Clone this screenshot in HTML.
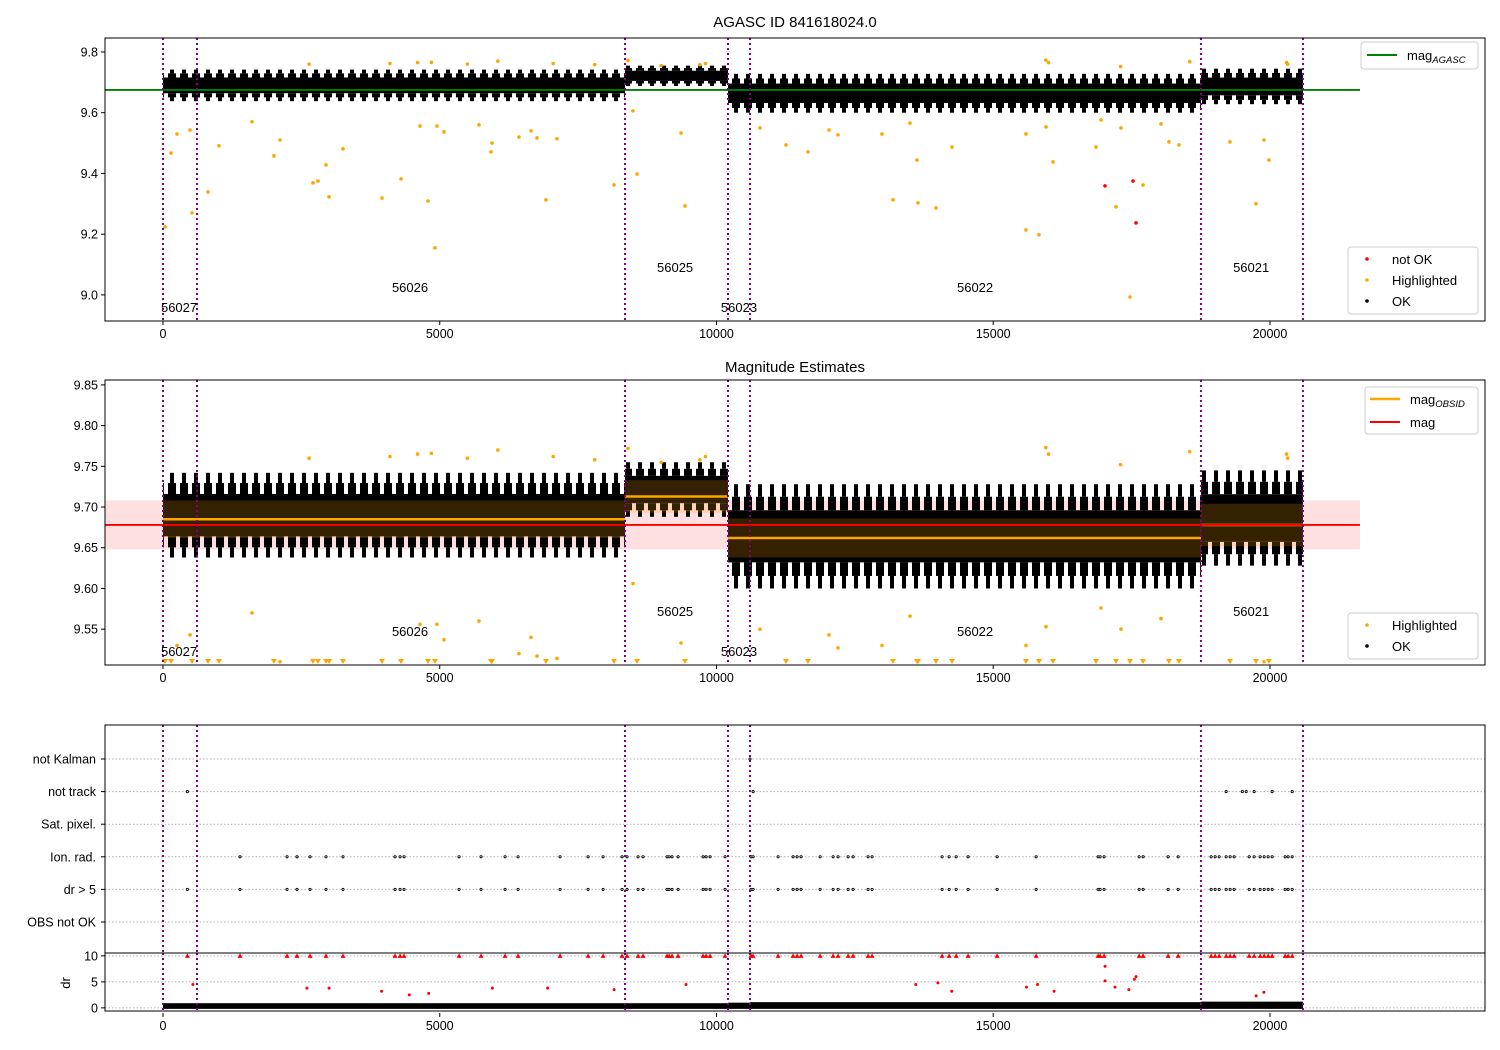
<!DOCTYPE html>
<html><head><meta charset="utf-8"><style>
html,body{margin:0;padding:0;background:#fff}
svg{display:block;font-family:"Liberation Sans","DejaVu Sans",sans-serif}
</style></head><body>
<svg id="fig" width="1500" height="1050" viewBox="0 0 1500 1050" xmlns="http://www.w3.org/2000/svg">
<defs>
<pattern id="stripes" patternUnits="userSpaceOnUse" width="12" height="40"><rect x="0" y="0" width="8" height="40" fill="#000"/></pattern>
<pattern id="stripes2" patternUnits="userSpaceOnUse" width="12" height="40"><rect x="2" y="0" width="4" height="40" fill="#000"/></pattern>
</defs>
<rect x="0" y="0" width="1500" height="1050" fill="#fff"/>
<text x="795" y="27" font-size="15" text-anchor="middle">AGASC ID 841618024.0</text>
<text x="795" y="372" font-size="15" text-anchor="middle">Magnitude Estimates</text>
<g id="p1"></g>
<g id="p2"></g>
<g id="p3"></g>
<g id="p4"></g>
</svg>
<script>
// ---- data ----
const obsBounds = [0, 614, 8347, 10208, 10605, 18753, 20596];
const obsLabels = ["56027","56026","56025","56023","56022","56021"];
const obsLabelX = [290, 4463, 9252, 10407, 14672, 19660];
const obsLabelFrac = [0.05, 0.12, 0.19, 0.05, 0.12, 0.19];
const segStart = [0, 8347, 10208, 18753];
const segEnd = [8347, 10208, 18753, 20596];
const segLo = [9.638, 9.688, 9.600, 9.628];
const segHi = [9.742, 9.755, 9.728, 9.745];
const segMean = [9.685, 9.713, 9.662, 9.678];
const segStdLo = [9.662, 9.693, 9.638, 9.652];
const segStdHi = [9.708, 9.733, 9.686, 9.704];
const magAgasc = 9.675;
const magAll = 9.678;
const magBandLo = 9.648, magBandHi = 9.708;
const lineXEnd = 21626;
const hiX = [36,145,253,488,524,813,1012,1608,2005,2114,2710,2800,2945,3000,3252,3957,4300,4643,4788,4914,4950,5077,5709,5926,5944,6432,6649,6757,6920,7118,8148,8491,8564,9359,9431,10786,11256,11653,12033,12195,12990,13189,13496,13623,13641,13966,14255,15592,15592,15827,15953,16080,16857,16947,17218,17308,17471,17706,18031,18175,18356,19277,19747,19892,19982,2640,4100,4600,4850,5500,6050,7050,7800,8400,9000,9700,9800,15950,16000,17300,18550,20300,20320];
const hiY = [9.224,9.467,9.530,9.543,9.270,9.339,9.491,9.570,9.458,9.510,9.369,9.375,9.428,9.323,9.481,9.319,9.382,9.556,9.309,9.155,9.556,9.537,9.560,9.471,9.500,9.520,9.540,9.517,9.313,9.514,9.362,9.606,9.398,9.533,9.293,9.550,9.494,9.471,9.543,9.527,9.530,9.313,9.566,9.444,9.303,9.286,9.487,9.530,9.214,9.198,9.553,9.438,9.487,9.576,9.290,9.550,8.993,9.362,9.563,9.504,9.494,9.504,9.300,9.510,9.444,9.760,9.762,9.765,9.766,9.760,9.770,9.762,9.758,9.772,9.755,9.758,9.762,9.773,9.765,9.752,9.768,9.765,9.760];
const notOkX = [17019, 17525, 17580];
const notOkY = [9.359, 9.375, 9.237];
const flagX = [1391,2241,2421,2656,2945,3252,4192,4283,4355,5349,5746,6180,6415,7174,7680,7951,8294,8384,8583,8673,9107,9143,9197,9306,9758,9812,9884,10155,10625,10661,11113,11384,11456,11528,11872,12107,12197,12378,12468,12739,12811,14076,14203,14330,14546,15070,15775,16895,16931,17003,17636,17708,18160,18341,18937,19009,19082,19208,19280,19353,19624,19714,19822,19895,19967,20039,20274,20328,20401];
const drFlagX = [440].concat(flagX);
const notTrackX = [440, 10661, 19208, 19500, 19570, 19714, 20039, 20401];
const notKalmanX = [10605];
const flagNames = ["not Kalman","not track","Sat. pixel.","Ion. rad.","dr > 5","OBS not OK"];
const drX = [540,2600,3000,3950,4450,4800,5950,6950,8150,9450,13600,14000,14250,15600,15800,16100,17020,17020,17200,17450,17550,17580,19750,19890];
const drY = [4.5,3.8,3.8,3.2,2.5,2.8,3.8,3.8,3.5,4.5,4.5,4.8,3.2,4.0,4.5,3.2,8.0,5.2,4.0,3.5,5.5,6.0,2.3,3.0];
const drBandHi = [0.9,0.9,0.9,1.0,1.1,1.2];
const xTicks = [0,5000,10000,15000,20000];
const y1Ticks = [9.0,9.2,9.4,9.6,9.8];
const y2Ticks = [9.55,9.60,9.65,9.70,9.75,9.80,9.85];
const drTicks = [0,5,10];

// ---- scales ----
const X0=105,X1=1485, XMIN=-1048, XMAX=23885;
const sx = v => X0 + (v-XMIN)/(XMAX-XMIN)*(X1-X0);
const P1={t:38,b:321,min:8.914,max:9.846};
const P2={t:380,b:665,min:9.506,max:9.856};
const P3={t:725,b:953};
const P4={t:953,b:1011,min:-0.6,max:10.55};
const sy = (P,v)=> P.b - (v-P.min)/(P.max-P.min)*(P.b-P.t);
const rowY = i => 759 + i*32.6;
const NS="http://www.w3.org/2000/svg";
function mk(parent,tag,attrs,text){const e=document.createElementNS(NS,tag);for(const k in attrs)e.setAttribute(k,attrs[k]);if(text!==undefined)e.textContent=text;parent.appendChild(e);return e;}

function frame(g,t,b){
  mk(g,'rect',{x:X0,y:t,width:X1-X0,height:b-t,fill:'none',stroke:'#000','stroke-width':1});
}
function xAxis(g,b){
  xTicks.forEach(v=>{
    mk(g,'line',{x1:sx(v),x2:sx(v),y1:b,y2:b+4,stroke:'#000'});
    const t=mk(g,'text',{x:sx(v),y:b+17,'font-size':12.5,'text-anchor':'middle'},String(v));
    
    
  });
}
function yAxis(g,P,ticks,dec){
  ticks.forEach(v=>{
    const y=sy(P,v);
    mk(g,'line',{x1:X0-4,x2:X0,y1:y,y2:y,stroke:'#000'});
    const t=mk(g,'text',{x:X0-7,y:y+4.5,'font-size':12.5,'text-anchor':'end'},v.toFixed(dec));
    
    
  });
}
function vlines(g,t,b){
  obsBounds.forEach(v=>{
    const l=mk(g,'line',{x1:sx(v),x2:sx(v),y1:t,y2:b,stroke:'#800080','stroke-width':2,'stroke-dasharray':'2,3'});
    
    
  });
}
function obsText(g,P){
  obsLabels.forEach((s,i)=>{
    const t=mk(g,'text',{x:sx(obsLabelX[i]),y:P.b-(P.b-P.t)*obsLabelFrac[i]+5,'font-size':13,'text-anchor':'middle'},s);
    
    
  });
}
function band(c,P,x0,x1,lo,hi){
  const h=hi-lo;
  const a=lo+0.12*h, b=lo+0.25*h, d=hi-0.25*h, e=hi-0.12*h;
  const parts=[[lo,a,'url(#stripes2)'],[a,b,'url(#stripes)'],[b,d,'#000'],[d,e,'url(#stripes)'],[e,hi,'url(#stripes2)']];
  parts.forEach(p=>{
    const r=mk(c,'rect',{x:sx(x0),y:sy(P,p[1]),width:sx(x1)-sx(x0),height:sy(P,p[0])-sy(P,p[1]),fill:p[2]});
    
    
  });
}
function magPanel(g,P,second){
  const clipId='c'+P.t;
  const cp=mk(g,'clipPath',{id:clipId});mk(cp,'rect',{x:X0,y:P.t,width:X1-X0,height:P.b-P.t});
  const c=mk(g,'g',{'clip-path':`url(#${clipId})`});
  if(second){
    const pb=mk(c,'rect',{x:sx(XMIN),y:sy(P,magBandHi),width:sx(lineXEnd)-sx(XMIN),height:sy(P,magBandLo)-sy(P,magBandHi),fill:'#ff0000','fill-opacity':0.12});
    
    
  }
  segStart.forEach((s,i)=>band(c,P,s,segEnd[i],segLo[i],segHi[i]));
  if(second){
    segStart.forEach((s,i)=>{
      const r=mk(c,'rect',{x:sx(s),y:sy(P,segStdHi[i]),width:sx(segEnd[i])-sx(s),height:sy(P,segStdLo[i])-sy(P,segStdHi[i]),fill:'#ffa500','fill-opacity':0.2});
      
      
    });
  }
  hiX.forEach((x,i)=>{
    const y=hiY[i];
    if(y<P.min){
      const px=sx(x),py=P.b-3;
      const m=mk(c,'path',{d:`M${px-3},${py-3}L${px+3},${py-3}L${px},${py+2}Z`,fill:'#ffa500'});
      
      
    } else {
      const m=mk(c,'circle',{cx:sx(x),cy:sy(P,y),r:1.8,fill:'#ffa500'});
      
      
    }
  });
  if(!second){
    notOkX.forEach((x,i)=>{
      const m=mk(c,'circle',{cx:sx(x),cy:sy(P,notOkY[i]),r:1.8,fill:'#ff0000'});
      
      
    });
    const l=mk(c,'line',{x1:sx(XMIN),x2:sx(lineXEnd),y1:sy(P,magAgasc),y2:sy(P,magAgasc),stroke:'#008000','stroke-width':1.8});
    
    
  } else {
    segStart.forEach((s,i)=>{
      const l=mk(c,'line',{x1:sx(s),x2:sx(segEnd[i]),y1:sy(P,segMean[i]),y2:sy(P,segMean[i]),stroke:'#ffa500','stroke-width':2.5});
      
      
    });
    const l=mk(c,'line',{x1:sx(XMIN),x2:sx(lineXEnd),y1:sy(P,magAll),y2:sy(P,magAll),stroke:'#ff0000','stroke-width':1.8});
    
    
  }
  vlines(c,P.t,P.b);
  obsText(g,P);
  frame(g,P.t,P.b);
  xAxis(g,P.b);
}
function legendBox(g,x,y,w,h,name){
  mk(g,'rect',{x:x,y:y,width:w,height:h,rx:3,fill:'#fff','fill-opacity':0.85,stroke:'#ccc'});
  
  
}
// panel 1
const g1=document.getElementById('p1');
magPanel(g1,P1,false);
yAxis(g1,P1,y1Ticks,1);
{const lg=mk(g1,'g',{});legendBox(lg,1361,42,117,27,'legend-agasc');
mk(lg,'line',{x1:1367,x2:1397,y1:55,y2:55,stroke:'#008000','stroke-width':2});
const t=mk(lg,'text',{x:1407,y:60,'font-size':13});t.innerHTML='mag<tspan font-size="9.5" font-style="italic" dy="3">AGASC</tspan>';}
{const lg=mk(g1,'g',{});legendBox(lg,1348,247,130,67,'legend-status');
[['not OK','#ff0000',259],['Highlighted','#ffa500',280],['OK','#000',301]].forEach(e=>{
 mk(lg,'circle',{cx:1367,cy:e[2],r:1.8,fill:e[1]});
 mk(lg,'text',{x:1392,y:e[2]+5,'font-size':13},e[0]);});}
// panel 2
const g2=document.getElementById('p2');
magPanel(g2,P2,true);
yAxis(g2,P2,y2Ticks,2);
{const lg=mk(g2,'g',{});legendBox(lg,1365,387,113,47,'legend-mag');
mk(lg,'line',{x1:1370,x2:1400,y1:399,y2:399,stroke:'#ffa500','stroke-width':2.5});
const t=mk(lg,'text',{x:1410,y:404,'font-size':13});t.innerHTML='mag<tspan font-size="9.5" font-style="italic" dy="3">OBSID</tspan>';
mk(lg,'line',{x1:1370,x2:1400,y1:422,y2:422,stroke:'#ff0000','stroke-width':2});
mk(lg,'text',{x:1410,y:427,'font-size':13},'mag');}
{const lg=mk(g2,'g',{});legendBox(lg,1348,613,130,46,'legend-status-2');
[['Highlighted','#ffa500',625],['OK','#000',646]].forEach(e=>{
 mk(lg,'circle',{cx:1367,cy:e[2],r:1.8,fill:e[1]});
 mk(lg,'text',{x:1392,y:e[2]+5,'font-size':13},e[0]);});}
// panel 3 flags
const g3=document.getElementById('p3');
flagNames.forEach((n,i)=>{
  mk(g3,'line',{x1:X0,x2:X1,y1:rowY(i),y2:rowY(i),stroke:'#b0b0b0','stroke-dasharray':'1.5,2'});
  mk(g3,'line',{x1:X0-4,x2:X0,y1:rowY(i),y2:rowY(i),stroke:'#000'});
  const t=mk(g3,'text',{x:X0-9,y:rowY(i)+4.5,'font-size':12.5,'text-anchor':'end'},n);
  
  
});
vlines(g3,P3.t,P3.b);
function flagPts(arr,row){arr.forEach(x=>{
  const m=mk(g3,'circle',{cx:sx(x),cy:rowY(row),r:1.1,fill:'#fff',stroke:'#000','stroke-width':0.9});
  
  
});}
flagPts(notKalmanX,0);flagPts(notTrackX,1);flagPts(flagX,3);flagPts(drFlagX,4);
frame(g3,P3.t,P3.b);
// panel 4 dr
const g4=document.getElementById('p4');
drTicks.forEach(v=>mk(g4,'line',{x1:X0,x2:X1,y1:sy(P4,v),y2:sy(P4,v),stroke:'#b0b0b0','stroke-dasharray':'1.5,2'}));
obsBounds.slice(0,-1).forEach((s,i)=>{
  const r=mk(g4,'rect',{x:sx(s),y:sy(P4,drBandHi[i]),width:sx(obsBounds[i+1])-sx(s),height:sy(P4,0)-sy(P4,drBandHi[i])+1,fill:'#000'});
  
  
});
vlines(g4,P4.t,P4.b);
drFlagX.forEach(x=>{
  const px=sx(x),py=sy(P4,10);
  const m=mk(g4,'path',{d:`M${px-2.5},${py+2}L${px+2.5},${py+2}L${px},${py-2.5}Z`,fill:'#ff0000'});
  
  
});
drX.forEach((x,i)=>{
  const m=mk(g4,'circle',{cx:sx(x),cy:sy(P4,drY[i]),r:1.5,fill:'#ff0000'});
  
  
});
frame(g4,P4.t,P4.b);
yAxis(g4,P4,drTicks,0);
xAxis(g4,P4.b+2);
{const t=mk(g4,'text',{x:0,y:0,'font-size':13,'text-anchor':'middle',transform:'translate(70,983) rotate(-90)'},'dr');

}
</script>
</body></html>
